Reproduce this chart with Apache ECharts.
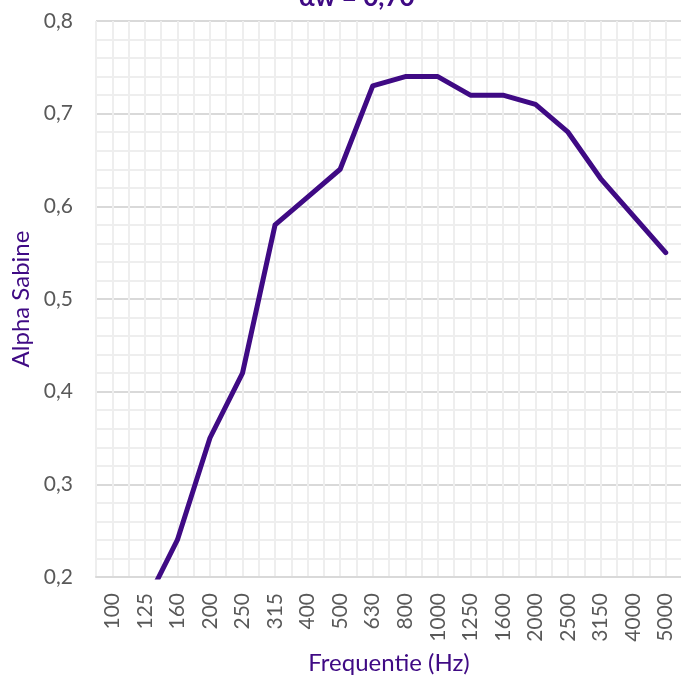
<!DOCTYPE html>
<html>
<head>
<meta charset="utf-8">
<script src="https://cdn.jsdelivr.net/npm/echarts@6/dist/echarts.min.js"></script>
<style>
  html, body { margin: 0; padding: 0; background: #fff; }
  #chart { width: 681px; height: 679px; }
</style>
</head>
<body>
<div id="chart"></div>
<script>
// third-octave bands
const freqs = ['100', '125', '160', '200', '250', '315', '400', '500', '630', '800',
  '1000', '1250', '1600', '2000', '2500', '3150', '4000', '5000'];
// alpha sabine per band (first two fall below the visible range)
const alpha = [0.12, 0.17, 0.24, 0.35, 0.42, 0.58, 0.61, 0.64, 0.73, 0.74,
  0.74, 0.72, 0.72, 0.71, 0.68, 0.63, 0.59, 0.55];
const titleText = 'αw = 0,70';

// half-band slots, only used for the vertical grid
const halfSlots = [];
freqs.forEach(f => { halfSlots.push(f + 'a', f + 'b'); });

const purple = '#3f0a84';
const font = 'Lato';

const myChart = echarts.init(document.getElementById('chart'));
const option = {
  animation: false,
  title: {
    text: titleText,
    left: 294,
    top: -20,
    textStyle: { fontSize: 26, fontWeight: 'bold', color: purple, fontFamily: font }
  },
  grid: { left: 96, right: -1, top: 21, bottom: 102, outerBoundsMode: 'none', containLabel: false },
  xAxis: [
    {
      type: 'category',
      data: freqs,
      name: 'Frequentie (Hz)',
      nameLocation: 'middle',
      nameGap: 74,
      nameTextStyle: { color: purple, fontSize: 24, fontFamily: font },
      axisLine: { lineStyle: { color: '#d9d9d9', width: 2 } },
      axisTick: { show: false },
      axisLabel: { rotate: 90, margin: 16, color: '#595959', fontSize: 21, fontFamily: font },
      splitLine: { show: false }
    },
    {
      type: 'category',
      data: halfSlots,
      position: 'bottom',
      show: true,
      axisLine: { show: false },
      axisTick: { show: false },
      axisLabel: { show: false },
      splitLine: { show: true, interval: 0, lineStyle: { color: '#eeeeee', width: 2 } }
    }
  ],
  yAxis: {
    type: 'value',
    min: 0.2,
    max: 0.8,
    interval: 0.1,
    name: 'Alpha Sabine',
    nameLocation: 'middle',
    nameGap: 63,
    nameTextStyle: { color: purple, fontSize: 24, fontFamily: font },
    axisLine: { show: false },
    axisTick: { show: false },
    axisLabel: {
      margin: 23,
      color: '#595959',
      fontSize: 21,
      fontFamily: font,
      formatter: v => v.toFixed(1).replace('.', ',')
    },
    splitLine: { lineStyle: { color: '#d9d9d9', width: 2 } },
    minorTick: { show: false, splitNumber: 5 },
    minorSplitLine: { show: true, lineStyle: { color: '#eeeeee', width: 2 } }
  },
  series: [
    {
      type: 'line',
      data: alpha,
      xAxisIndex: 0,
      symbol: 'none',
      clip: true,
      lineStyle: { color: purple, width: 5, cap: 'round', join: 'round' },
      z: 5
    }
  ]
};
myChart.setOption(option);
</script>
</body>
</html>
